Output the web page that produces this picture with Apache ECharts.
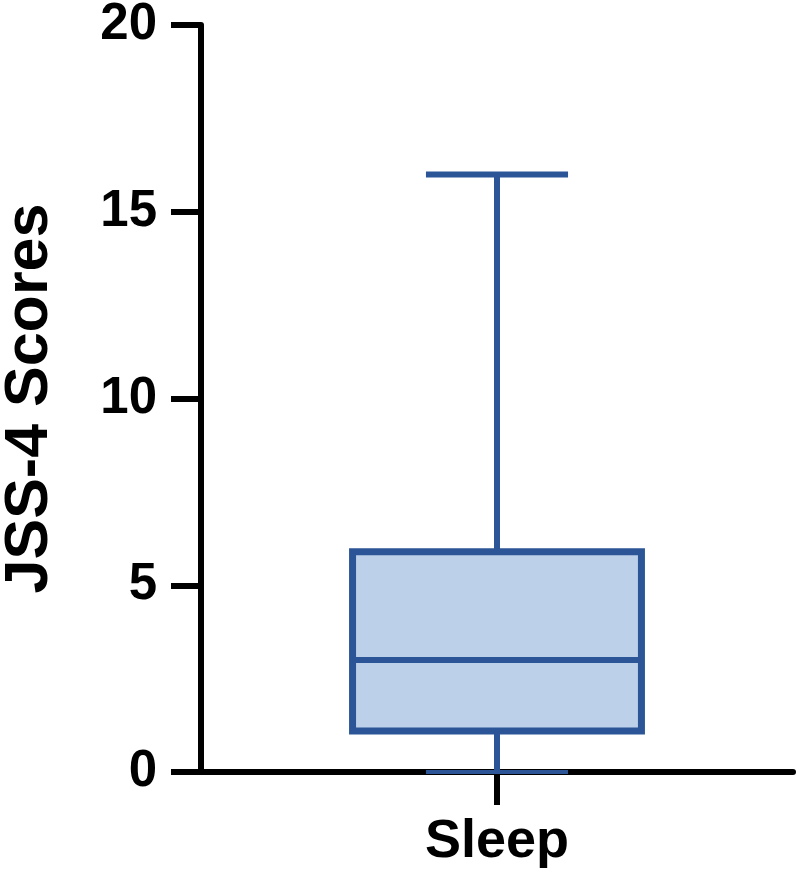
<!DOCTYPE html>
<html>
<head>
<meta charset="utf-8">
<script src="https://cdn.jsdelivr.net/npm/echarts@6/dist/echarts.min.js"></script>
<style>
html,body{margin:0;padding:0;background:#fff;}
#chart{width:800px;height:879px;}
</style>
</head>
<body>
<div id="chart"></div>
<script>
const categories = ['Sleep'];
const minValues = [0];
const q1Values = [1.1];
const medianValues = [3];
const q3Values = [5.9];
const maxValues = [16];
const yTicks = [0, 5, 10, 15, 20];

const seriesData = categories.map((c, i) => [i, minValues[i], q1Values[i], medianValues[i], q3Values[i], maxValues[i]]);

const stroke = '#2c5597';
const fill = '#bdd0e9';
const font = '"Liberation Sans", Arial, Helvetica, sans-serif';

const chart = echarts.init(document.getElementById('chart'), null, {renderer: 'canvas'});
chart.setOption({
  animation: false,
  backgroundColor: '#ffffff',
  grid: {left: 201, right: 7, top: 25, bottom: 107, containLabel: false, outerBoundsMode: 'none'},
  xAxis: {
    type: 'category',
    data: categories,
    axisLine: {show: true, lineStyle: {color: '#000', width: 6}},
    axisTick: {show: true, alignWithLabel: true, length: 33, lineStyle: {color: '#000', width: 6}},
    axisLabel: {color: '#000', fontSize: 54, fontWeight: 'bold', fontFamily: font, margin: 43},
    splitLine: {show: false}
  },
  yAxis: {
    type: 'value',
    min: yTicks[0],
    max: yTicks[yTicks.length - 1],
    interval: 5,
    name: 'JSS-4 Scores',
    nameLocation: 'middle',
    nameGap: 140,
    nameTextStyle: {color: '#000', fontSize: 61, fontWeight: 'bold', fontFamily: font},
    axisLine: {show: true, lineStyle: {color: '#000', width: 6}},
    axisTick: {show: true, length: 30, lineStyle: {color: '#000', width: 6}},
    axisLabel: {color: '#000', fontSize: 51, fontWeight: 'bold', fontFamily: font, margin: 44},
    splitLine: {show: false}
  },
  series: [{
    type: 'custom',
    z: 10,
    data: seriesData,
    encode: {x: 0, y: [1, 2, 3, 4, 5]},
    renderItem: function (params, api) {
      const idx = api.value(0);
      const band = api.size([1, 0])[0];
      const cx = api.coord([idx, 0])[0];
      const yMin = api.coord([idx, api.value(1)])[1];
      const yQ1 = api.coord([idx, api.value(2)])[1];
      const yMed = api.coord([idx, api.value(3)])[1];
      const yQ3 = api.coord([idx, api.value(4)])[1];
      const yMax = api.coord([idx, api.value(5)])[1];
      const boxHalf = band * 0.488 / 2;
      const capHalf = band * 0.24 / 2;
      const ls = {stroke: stroke, lineWidth: 6};
      return {
        type: 'group',
        children: [
          {type: 'line', shape: {x1: cx, y1: yQ3, x2: cx, y2: yMax}, style: ls},
          {type: 'line', shape: {x1: cx, y1: yQ1, x2: cx, y2: yMin}, style: ls},
          {type: 'line', shape: {x1: cx - capHalf, y1: yMax, x2: cx + capHalf, y2: yMax}, style: ls},
          {type: 'line', shape: {x1: cx - capHalf, y1: yMin, x2: cx + capHalf, y2: yMin}, style: {stroke: stroke, lineWidth: 4}},
          {type: 'rect', shape: {x: cx - boxHalf, y: yQ3, width: boxHalf * 2, height: yQ1 - yQ3}, style: {fill: fill, stroke: stroke, lineWidth: 7}},
          {type: 'line', shape: {x1: cx - boxHalf, y1: yMed, x2: cx + boxHalf, y2: yMed}, style: ls}
        ]
      };
    }
  }]
});
</script>
</body>
</html>
